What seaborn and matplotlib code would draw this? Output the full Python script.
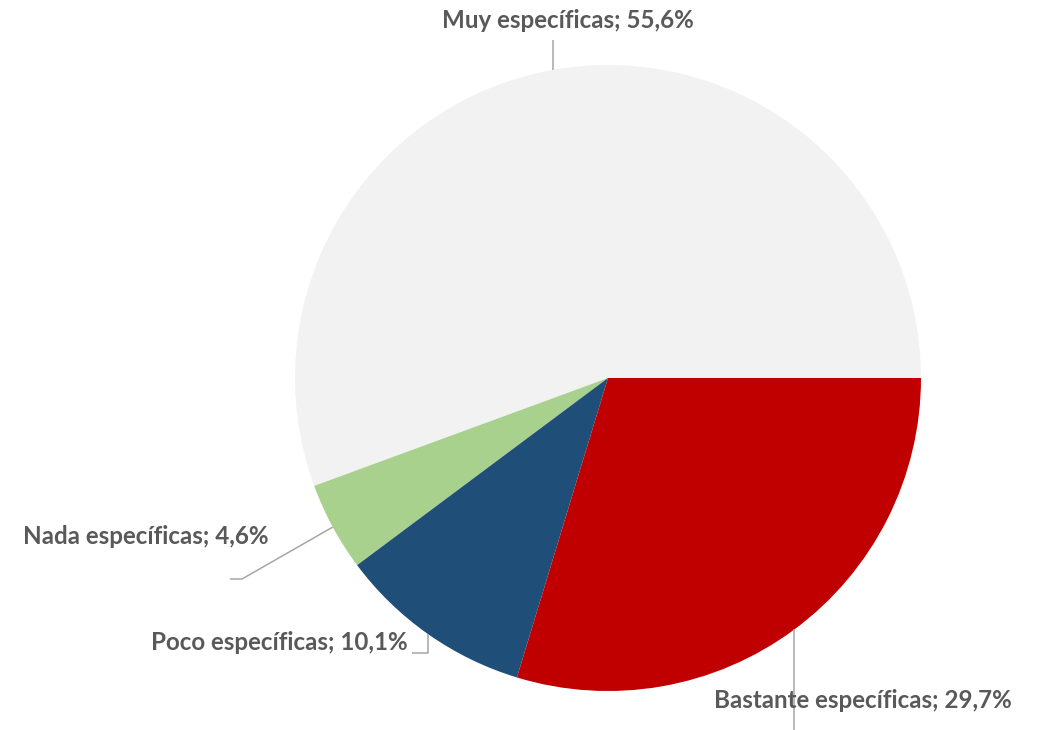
import numpy as np
import seaborn as sns
import matplotlib.pyplot as plt

# data, counterclockwise from 3 o'clock
categories = ['Muy específicas', 'Nada específicas', 'Poco específicas', 'Bastante específicas']
values = [55.6, 4.6, 10.1, 29.7]
value_labels = ['55,6%', '4,6%', '10,1%', '29,7%']
colors = ['#F2F2F2', '#A9D18E', '#1F4E79', '#C00000']

W, H = 1046, 730
sns.set_theme(style="white")
plt.rcParams['font.family'] = ['Lato', 'DejaVu Sans']

fig = plt.figure(figsize=(W / 100, H / 100), dpi=100)
ax = fig.add_axes([0, 0, 1, 1])

cx, cy, r = 608, H - 378, 313
wedges, _ = ax.pie(values, colors=colors, startangle=0, counterclock=True,
                   center=(cx, cy), radius=r, frame=True,
                   wedgeprops=dict(linewidth=0))
ax.set_xlim(0, W)
ax.set_ylim(0, H)
ax.set_aspect('equal')
ax.axis('off')

# label layout in pixel coordinates (x, y from top), alignment, leader path
label_pos = [(568, 20, 'center'), (23, 537, 'left'), (408, 643, 'right'), (714, 700, 'left')]
leader_ends = [
    [(None, 40)],
    [(242, 579), (230, 579)],
    [(None, 653), (412, 653)],
    [(None, 730)],
]

line_col = '#A6A6A6'
text_col = '#595959'
for w, cat, lab, (tx, ty, ha), ends in zip(wedges, categories, value_labels, label_pos, leader_ends):
    mid = np.deg2rad((w.theta1 + w.theta2) / 2)
    ax0 = cx + r * np.cos(mid)
    ay0 = cy + r * np.sin(mid)
    xs, ys = [ax0], [ay0]
    for ex, ey in ends:
        xs.append(ax0 if ex is None else ex)
        ys.append(H - ey)
    ax.plot(xs, ys, color=line_col, lw=1.1, solid_capstyle='butt', zorder=1)
    ax.text(tx, H - ty, f'{cat}; {lab}', ha=ha, va='center', fontsize=17.4,
            fontweight='bold', color=text_col, zorder=3)

plt.savefig('out.png', dpi=100)
